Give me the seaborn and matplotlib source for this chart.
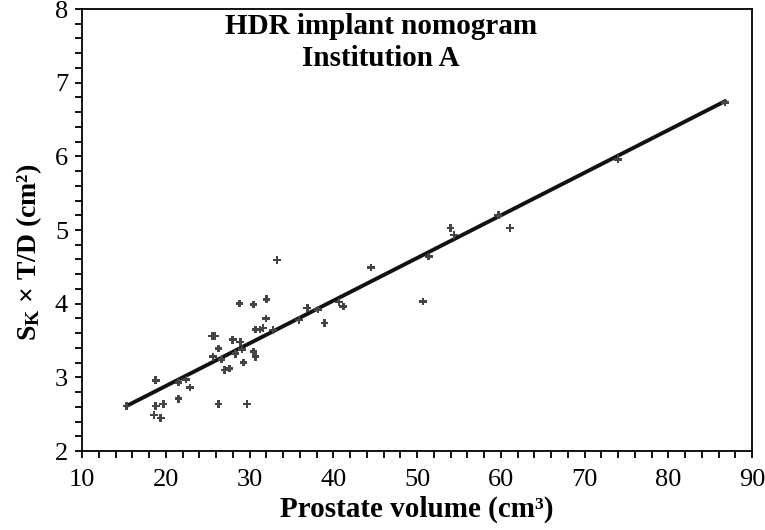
import matplotlib
matplotlib.use("Agg")
import matplotlib.pyplot as plt
from matplotlib.ticker import MultipleLocator
import seaborn as sns
import pandas as pd
import numpy as np

# Data
prostate_volume = [15.3, 18.6, 18.8, 18.8, 19.4, 19.7, 21.5, 21.5, 22.4, 22.9,
                   25.5, 25.85, 25.65, 26.3, 26.3, 26.65, 27.0, 27.6, 28.0, 28.35,
                   28.8, 28.9, 29.1, 29.3, 29.7, 30.5, 30.5, 30.7, 30.7, 31.25,
                   31.6, 31.97, 32.05, 32.8, 33.3, 35.9, 36.9, 38.2, 38.96, 40.67,
                   41.2, 44.5, 50.7, 51.4, 54.0, 54.4, 59.7, 61.1, 74.0, 86.8]
sk_td = [2.61, 2.49, 2.61, 2.96, 2.45, 2.64, 2.71, 2.93, 2.97, 2.86,
         3.56, 3.56, 3.28, 3.39, 2.64, 3.24, 3.10, 3.12, 3.51, 3.32,
         4.00, 3.48, 3.38, 3.20, 2.64, 3.99, 3.35, 3.65, 3.28, 3.65,
         3.67, 3.80, 4.06, 3.64, 4.59, 3.78, 3.94, 3.92, 3.74, 4.02,
         3.96, 4.49, 4.03, 4.64, 5.03, 4.93, 5.20, 5.03, 5.96, 6.73]

# Fitted line
fit_x_range = [15.3, 86.8]
fit_y_range = [2.61, 6.75]

title_lines = ["HDR implant nomogram", "Institution A"]
x_label = "Prostate volume (cm³)"
y_label = r"$\mathbf{S_K}$ × T/D (cm²)"
x_ticks = [10, 20, 30, 40, 50, 60, 70, 80, 90]
y_ticks = [2, 3, 4, 5, 6, 7, 8]

sns.set_theme(style="ticks")
plt.rcParams['font.family'] = ['Liberation Serif', 'DejaVu Serif']
plt.rcParams['mathtext.fontset'] = 'custom'
plt.rcParams['mathtext.bf'] = 'Liberation Serif:bold'
plt.rcParams['mathtext.rm'] = 'Liberation Serif'
plt.rcParams['text.color'] = 'black'
plt.rcParams['axes.labelcolor'] = 'black'

df = pd.DataFrame({"x": prostate_volume, "y": sk_td})
fit_df = pd.DataFrame({"x": fit_x_range, "y": fit_y_range})

fig = plt.figure(figsize=(7.65, 5.3), dpi=100)
ax = fig.add_axes([82 / 765, 1 - 451 / 530, (752 - 82) / 765, (451 - 9) / 530])

sns.lineplot(data=fit_df, x="x", y="y", ax=ax, color="#111111", linewidth=2.8, zorder=2)
sns.scatterplot(data=df, x="x", y="y", ax=ax, marker="P", s=30, color="#444444",
                edgecolor="none", zorder=3)

ax.set_xlim(10, 90)
ax.set_ylim(2, 8)
ax.set_xticks(x_ticks)
ax.set_yticks(y_ticks)
ax.xaxis.set_minor_locator(MultipleLocator(2))
ax.yaxis.set_minor_locator(MultipleLocator(0.2))
ax.tick_params(axis="both", which="both", direction="out", length=5, width=1.3,
               color="black", labelsize=19, labelcolor="black")
ax.tick_params(axis="x", pad=8)
ax.tick_params(axis="y", pad=5)
for side in ["left", "right", "top", "bottom"]:
    ax.spines[side].set_visible(True)
    ax.spines[side].set_color("black")
    ax.spines[side].set_linewidth(1.3)

ax.set_xlabel(x_label, fontsize=21, fontweight="bold", labelpad=3, color="black")
ax.set_ylabel(y_label, fontsize=20, fontweight="bold", labelpad=8, color="black")
ax.yaxis.label.set_y(0.45)

fig.text(381 / 765, 1 - 27 / 530, title_lines[0], ha="center", va="center",
         fontsize=21, fontweight="bold", color="black")
fig.text(381 / 765, 1 - 58 / 530, title_lines[1], ha="center", va="center",
         fontsize=21, fontweight="bold", color="black")

fig.savefig("out.png", dpi=100)
